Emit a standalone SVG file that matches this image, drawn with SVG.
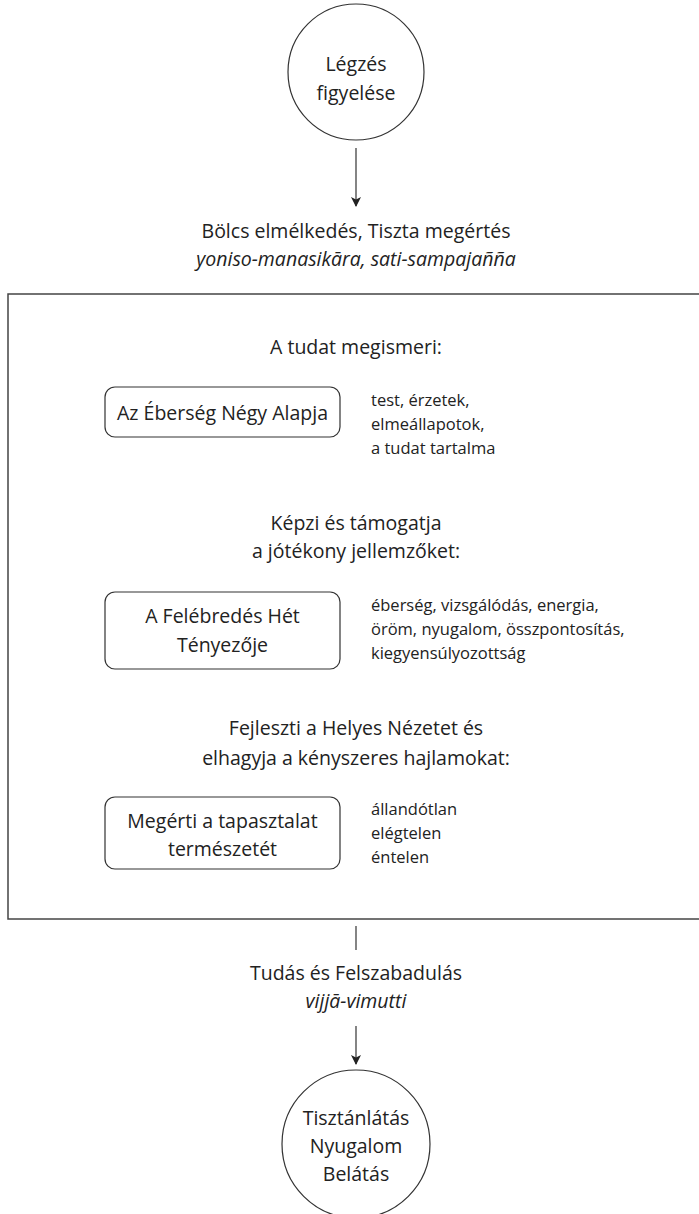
<svg xmlns="http://www.w3.org/2000/svg" width="699" height="1214" viewBox="0 0 699 1214">
<defs>
<style>
text{font-family:"Open Sans","Noto Sans","DejaVu Sans",sans-serif;fill:#222;dominant-baseline:central}
.c{text-anchor:middle;font-size:19.5px}
.l{text-anchor:start;font-size:16.5px}
.i{font-style:italic}
.node{fill:#fff;stroke:#333;stroke-width:1.2}
.frame{fill:#fff;stroke:#444;stroke-width:1.5}
.edge{stroke:#333;stroke-width:1.2;fill:none}
</style>
<marker id="arr" viewBox="0 0 10 10" refX="9" refY="5" markerWidth="10" markerHeight="10" markerUnits="userSpaceOnUse" orient="auto">
<path d="M0,0 L10,5 L0,10 L2.5,5 z" fill="#222"/>
</marker>
</defs>
<rect width="699" height="1214" fill="#fff"/>
<g id="frame">
<rect class="frame" x="8" y="294" width="720" height="625"/>
</g>
<g id="connectors">
<line class="edge" x1="356" y1="148" x2="356" y2="206" marker-end="url(#arr)"/>
<line class="edge" x1="356" y1="926" x2="356" y2="950"/>
<line class="edge" x1="356" y1="1026" x2="356" y2="1064" marker-end="url(#arr)"/>
</g>
<g id="node-legzes">
<circle class="node" cx="356" cy="72" r="68"/>
<text class="c" x="356" y="63">Légzés</text>
<text class="c" x="356" y="92">figyelése</text>
</g>
<g id="label-bolcs">
<text class="c" x="356" y="230">Bölcs elmélkedés, Tiszta megértés</text>
<text class="c i" x="356" y="258">yoniso-manasikāra, sati-sampajañña</text>
</g>
<g id="title-1">
<text class="c" x="356" y="346">A tudat megismeri:</text>
</g>
<g id="node-eberseg">
<rect class="node" x="105" y="387" width="235" height="50" rx="10"/>
<text class="c" x="222.5" y="412">Az Éberség Négy Alapja</text>
</g>
<g id="list-1">
<text class="l" x="371" y="399">test, érzetek,</text>
<text class="l" x="371" y="423">elmeállapotok,</text>
<text class="l" x="371" y="447">a tudat tartalma</text>
</g>
<g id="title-2">
<text class="c" x="356" y="522">Képzi és támogatja</text>
<text class="c" x="356" y="550">a jótékony jellemzőket:</text>
</g>
<g id="node-felebredes">
<rect class="node" x="105" y="592" width="235" height="77" rx="10"/>
<text class="c" x="222.5" y="615">A Felébredés Hét</text>
<text class="c" x="222.5" y="644">Tényezője</text>
</g>
<g id="list-2">
<text class="l" x="371" y="604">éberség, vizsgálódás, energia,</text>
<text class="l" x="371" y="628">öröm, nyugalom, összpontosítás,</text>
<text class="l" x="371" y="652">kiegyensúlyozottság</text>
</g>
<g id="title-3">
<text class="c" x="356" y="727">Fejleszti a Helyes Nézetet és</text>
<text class="c" x="356" y="757">elhagyja a kényszeres hajlamokat:</text>
</g>
<g id="node-megerti">
<rect class="node" x="105" y="797" width="235" height="72" rx="10"/>
<text class="c" x="222.5" y="820">Megérti a tapasztalat</text>
<text class="c" x="222.5" y="848">természetét</text>
</g>
<g id="list-3">
<text class="l" x="371" y="808">állandótlan</text>
<text class="l" x="371" y="832">elégtelen</text>
<text class="l" x="371" y="856">éntelen</text>
</g>
<g id="label-tudas">
<text class="c" x="356" y="972">Tudás és Felszabadulás</text>
<text class="c i" x="356" y="1000">vijjā-vimutti</text>
</g>
<g id="node-tisztanlatas">
<circle class="node" cx="356" cy="1144" r="74"/>
<text class="c" x="356" y="1117">Tisztánlátás</text>
<text class="c" x="356" y="1145">Nyugalom</text>
<text class="c" x="356" y="1173">Belátás</text>
</g>
</svg>
